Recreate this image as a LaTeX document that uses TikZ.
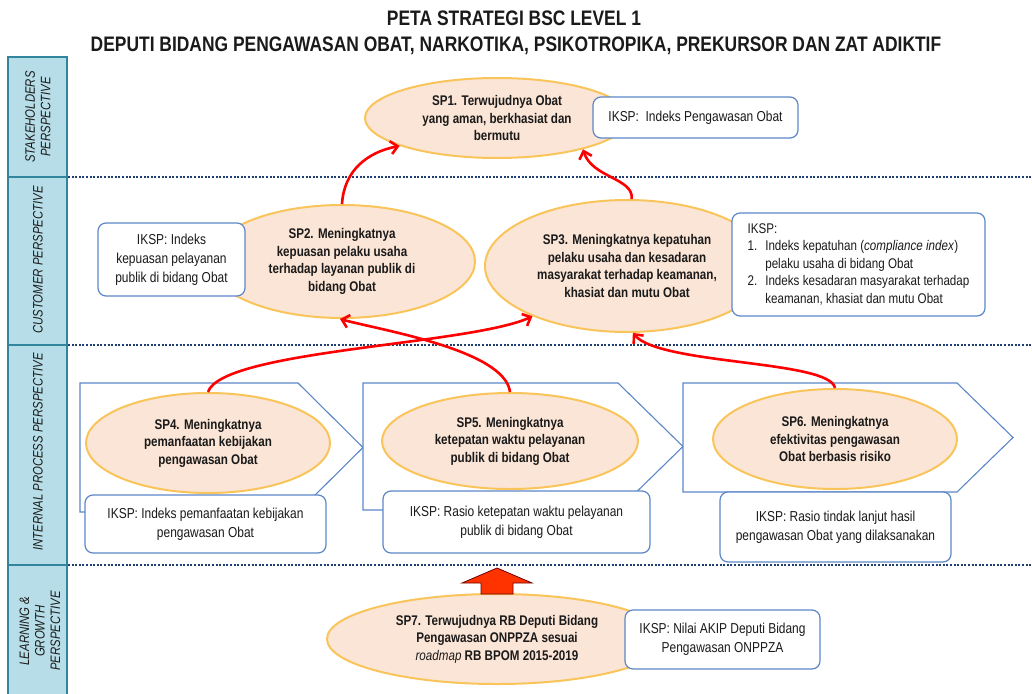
\documentclass[tikz,border=0pt]{standalone}
\usepackage{fontspec}
\setmainfont{Liberation Sans}[FakeStretch=0.83]
\usetikzlibrary{shapes.geometric,arrows.meta}

\definecolor{bandfill}{HTML}{B7DEE8}
\definecolor{bandline}{HTML}{31859C}
\definecolor{goalfill}{HTML}{FBE5D6}
\definecolor{goalline}{HTML}{F9C55B}
\definecolor{boxline}{HTML}{5B87C8}
\definecolor{sepline}{HTML}{1F3F73}
\definecolor{linkred}{HTML}{FF0000}
\definecolor{blockred}{HTML}{FF3300}
\definecolor{txt}{HTML}{1A1A1A}

\begin{document}
\begin{tikzpicture}[x=1pt,y=-1pt,
  goal/.style={ellipse, draw=goalline, fill=goalfill, line width=2pt, inner sep=0pt,
    align=center, font=\bfseries\fontsize{14}{17.5}\selectfont, text=txt},
  iksp/.style={draw=boxline, fill=white, line width=1.2pt, rounded corners=8pt,
    align=center, font=\fontsize{14.4}{19}\selectfont, text=txt, inner sep=0pt},
  chevron/.style={draw=boxline, fill=white, line width=1.1pt, line join=miter},
  sep/.style={sepline, line width=2.4pt, dash pattern=on 2pt off 1.6pt},
  link/.style={linkred, line width=2.6pt, -{Straight Barb[length=7pt,width=13pt]}},
  bandlabel/.style={rotate=90, align=center, font=\itshape\fontsize{13.7}{15.5}\selectfont, text=txt},
  titletext/.style={font=\bfseries\fontsize{21}{25}\selectfont, text=txt},
]
\useasboundingbox (0,0) rectangle (1032,693);

% title
\node[titletext] (title1) at (514,18) {PETA STRATEGI BSC LEVEL 1};
\node[titletext] (title2) at (516,46) {DEPUTI BIDANG PENGAWASAN OBAT, NARKOTIKA, PSIKOTROPIKA, PREKURSOR DAN ZAT ADIKTIF};

% perspective band on the left
\draw[fill=bandfill, draw=bandline, line width=2pt] (8,57) rectangle (67,696);
\draw[bandline, line width=2pt] (8,177) -- (67,177) (8,345) -- (67,345) (8,565) -- (67,565);
\node[bandlabel] (lbl1) at (38,117) {STAKEHOLDERS\\PERSPECTIVE};
\node[bandlabel] (lbl2) at (38,260) {CUSTOMER PERSPECTIVE};
\node[bandlabel] (lbl3) at (38,452) {INTERNAL PROCESS PERSPECTIVE};
\node[bandlabel] (lbl4) at (40,631) {LEARNING \&\\GROWTH\\PERSPECTIVE};

% dotted separators between perspectives
\draw[sep] (68,177) -- (1032,177);
\draw[sep] (68,345) -- (1032,345);
\draw[sep] (68,565) -- (1032,565);

% process chevrons
\draw[chevron] (80,383) -- (298,383) -- (363,447.5) -- (298,512) -- (80,512) -- cycle;
\draw[chevron] (363,383) -- (618,383) -- (683,446.5) -- (618,510) -- (363,510) -- cycle;
\draw[chevron] (683,383) -- (957,383) -- (1013,437.5) -- (957,492) -- (683,492) -- cycle;

% strategic goals
\node[goal, minimum width=264pt, minimum height=80pt] (sp1) at (497,118)
  {SP1. Terwujudnya Obat\\yang aman, berkhasiat dan\\bermutu};
\node[goal, minimum width=266pt, minimum height=113pt] (sp2) at (342,261.5)
  {SP2. Meningkatnya\\kepuasan pelaku usaha\\terhadap layanan publik di\\bidang Obat};
\node[goal, minimum width=284pt, minimum height=132pt] (sp3) at (627,266)
  {SP3. Meningkatnya kepatuhan\\pelaku usaha dan kesadaran\\masyarakat terhadap keamanan,\\khasiat dan mutu Obat};
\node[goal, minimum width=244pt, minimum height=100pt] (sp4) at (208,443)
  {SP4. Meningkatnya\\pemanfaatan kebijakan\\pengawasan Obat};
\node[goal, minimum width=256pt, minimum height=96pt] (sp5) at (510,441)
  {SP5. Meningkatnya\\ketepatan waktu pelayanan\\publik di bidang Obat};
\node[goal, minimum width=244pt, minimum height=100pt] (sp6) at (835,439)
  {SP6. Meningkatnya\\efektivitas pengawasan\\Obat berbasis risiko};
\node[goal, minimum width=340pt, minimum height=90pt] (sp7) at (497,639)
  {SP7. Terwujudnya RB Deputi Bidang\\Pengawasan ONPPZA sesuai\\{\mdseries\itshape roadmap} RB BPOM 2015-2019};

% indicator boxes
\node[iksp, minimum width=205pt, minimum height=41pt] (k1) at (695.5,117.5)
  {IKSP:\ \ Indeks Pengawasan Obat};
\node[iksp, minimum width=147pt, minimum height=73pt] (k2) at (171.5,259.5)
  {IKSP: Indeks\\kepuasan pelayanan\\publik di bidang Obat};
\node[iksp, minimum width=253pt, minimum height=103pt, align=left,
      font=\fontsize{14}{17.5}\selectfont] (k3) at (858.5,264.5)
  {\begin{tabular}{@{}l@{\hspace{8pt}}l@{}}
   \multicolumn{2}{@{}l@{}}{IKSP:}\\
   1. & Indeks kepatuhan (\textit{compliance index})\\
      & pelaku usaha di bidang Obat\\
   2. & Indeks kesadaran masyarakat terhadap\\
      & keamanan, khasiat dan mutu Obat
   \end{tabular}};
\node[iksp, minimum width=241pt, minimum height=58pt] (k4) at (205.5,524)
  {IKSP: Indeks pemanfaatan kebijakan\\pengawasan Obat};
\node[iksp, minimum width=267pt, minimum height=62pt] (k5) at (516.5,522)
  {IKSP: Rasio ketepatan waktu pelayanan\\publik di bidang Obat};
\node[iksp, minimum width=231pt, minimum height=70pt] (k6) at (835.5,527)
  {IKSP: Rasio tindak lanjut hasil\\pengawasan Obat yang dilaksanakan};
\node[iksp, minimum width=195pt, minimum height=59pt] (k7) at (722.5,639.5)
  {IKSP: Nilai AKIP Deputi Bidang\\Pengawasan ONPPZA};

% block arrow from learning & growth upwards
\draw[fill=blockred, draw=red!45!black, line width=0.8pt]
  (497,568) -- (532,583) -- (513,583) -- (513,594) -- (481,594) -- (481,583) -- (462,583) -- cycle;

% cause-effect links
\draw[link] (sp2.north) .. controls (344,170) and (368,152) .. (sp1.196);
\draw[link] (sp3.86) .. controls (634,178) and (592,178) .. (sp1.340);
\draw[link] (sp4.north) .. controls (222,350) and (470,345) .. (sp3.208);
\draw[link] (sp5.north) .. controls (505,350) and (380,330) .. (sp2.268);
\draw[link] (sp6.north) .. controls (830,360) and (660,365) .. (sp3.275);
\end{tikzpicture}
\end{document}
